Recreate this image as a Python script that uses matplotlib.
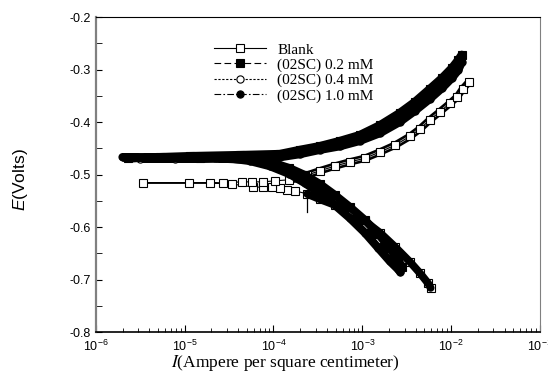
import numpy as np
import matplotlib.pyplot as plt

plt.rcParams['font.family'] = 'Liberation Sans'
plt.rcParams['mathtext.fontset'] = 'custom'
plt.rcParams['mathtext.rm'] = 'Liberation Sans'
plt.rcParams['mathtext.it'] = 'Liberation Sans:italic'
plt.rcParams['axes.unicode_minus'] = False

labels = ['Blank', '(02SC) 0.2 mM', '(02SC) 0.4 mM', '(02SC) 1.0 mM']

# log10 of current density (A/cm2) and potential (V),
# each scan from the cathodic end through Ecorr to the anodic end
blank_logi = [-2.23, -2.26, -2.35, -2.46, -2.63, -2.80, -2.97, -3.14, -3.31, -3.48,
              -3.62, -3.76, -3.85, -3.93, -4.02, -4.12, -4.23, -4.47, -4.72, -5.47,
              -4.95, -4.57, -4.36, -4.24, -4.12, -3.98, -3.82, -3.70, -3.62, -3.48,
              -3.31, -3.14, -2.97, -2.80, -2.63, -2.46, -2.35, -2.24, -2.13, -2.01,
              -1.93, -1.87, -1.80]
blank_e = [-0.716, -0.707, -0.688, -0.667, -0.638, -0.611, -0.589, -0.571, -0.558, -0.547,
           -0.537, -0.531, -0.530, -0.526, -0.524, -0.524, -0.524, -0.518, -0.516, -0.516,
           -0.516, -0.516, -0.514, -0.514, -0.514, -0.512, -0.510, -0.507, -0.501, -0.493,
           -0.484, -0.476, -0.469, -0.457, -0.444, -0.427, -0.413, -0.396, -0.381, -0.364,
           -0.352, -0.337, -0.324]

c02_logi = [-2.55, -2.60, -2.69, -2.82, -2.97, -3.14, -3.31, -3.48, -3.65, -3.82,
            -4.04, -4.27, -4.49, -4.83, -5.28, -5.64, -4.94, -4.38, -3.93, -3.70,
            -3.48, -3.25, -3.03, -2.80, -2.58, -2.41, -2.24, -2.10, -1.99, -1.92, -1.88]
c02_e = [-0.676, -0.663, -0.640, -0.613, -0.587, -0.562, -0.539, -0.518, -0.501, -0.488,
         -0.476, -0.470, -0.467, -0.469, -0.467, -0.469, -0.465, -0.463, -0.461, -0.453,
         -0.446, -0.436, -0.425, -0.406, -0.383, -0.362, -0.337, -0.316, -0.297, -0.282, -0.272]

c04_logi = [-2.61, -2.63, -2.70, -2.82, -2.97, -3.14, -3.31, -3.48, -3.65, -3.82,
            -4.04, -4.27, -4.66, -5.11, -5.50, -4.83, -4.32, -3.93, -3.70, -3.48,
            -3.25, -3.03, -2.80, -2.58, -2.41, -2.24, -2.10, -1.99, -1.92, -1.89]
c04_e = [-0.667, -0.659, -0.648, -0.625, -0.598, -0.571, -0.547, -0.526, -0.509, -0.493,
         -0.480, -0.472, -0.469, -0.470, -0.470, -0.469, -0.469, -0.465, -0.457, -0.450,
         -0.440, -0.430, -0.413, -0.390, -0.370, -0.347, -0.326, -0.307, -0.291, -0.282]

c10_logi = [-2.57, -2.60, -2.69, -2.82, -2.97, -3.14, -3.31, -3.48, -3.65, -3.82,
            -4.04, -4.27, -4.60, -5.00, -5.39, -5.70, -5.22, -4.15, -3.93, -3.70,
            -3.48, -3.25, -3.03, -2.80, -2.58, -2.41, -2.24, -2.10, -1.99, -1.92, -1.88]
c10_e = [-0.686, -0.680, -0.665, -0.640, -0.611, -0.583, -0.558, -0.535, -0.516, -0.499,
         -0.484, -0.474, -0.467, -0.469, -0.469, -0.467, -0.469, -0.467, -0.467, -0.461,
         -0.453, -0.446, -0.436, -0.421, -0.400, -0.379, -0.356, -0.335, -0.316, -0.301, -0.286]

# short vertical glitch seen on the blank scan near 2.4e-4 A/cm2
glitch_i = [2.4e-4, 2.4e-4]
glitch_e = [-0.530, -0.572]

fig = plt.figure(figsize=(5.48, 3.72), dpi=100)
ax = fig.add_axes([0.175, 0.1075, 0.8102, 0.8468])

blank_i = 10 ** np.array(blank_logi)
blank_v = np.array(blank_e)

# dense scan points merge into bands: blank branches
cath = np.where((blank_v < -0.52) & (blank_i > 2.3e-4), blank_i, np.nan)
anod = np.where((blank_v > -0.515) & (blank_i > 1.5e-4), blank_i, np.nan)
ax.plot(anod, blank_v, color='black', lw=5.4, solid_capstyle='round', zorder=2)
ax.plot(anod, blank_v, color='#d8d8d8', lw=1.6, zorder=2)
h_blank, = ax.plot(blank_i, blank_v, color='black', ls='-', lw=0.8, marker='s',
                   ms=5.2, mfc='white', mec='black', mew=0.8, zorder=3)
ax.plot(cath, blank_v, color='black', lw=5.6, solid_capstyle='round', zorder=3.5)
ax.plot(glitch_i, glitch_e, color='black', lw=0.9, zorder=9)

styles = [
    ('0.4', c04_logi, c04_e, 'o', 'white', (0, (2, 1.5)), 4),
    ('0.2', c02_logi, c02_e, 's', 'black', (0, (6, 3)), 6),
    ('1.0', c10_logi, c10_e, 'o', 'black', (0, (6, 2, 1.5, 2)), 6),
]
hmap = {}
for key, logi, e, mk, face, ls, z in styles:
    i = 10 ** np.array(logi)
    ax.plot(i, e, color='black', lw=6.0, solid_capstyle='round', zorder=z)
    h, = ax.plot(i, e, color='black', ls=ls, lw=0.8, marker=mk, ms=5.2,
                 mfc=face, mec='black', mew=0.8, zorder=z + 1)
    hmap[key] = h
handles = [h_blank, hmap['0.2'], hmap['0.4'], hmap['1.0']]

ax.set_xscale('log')
ax.set_xlim(1e-6, 1e-1)
ax.set_ylim(-0.8, -0.2)
ax.set_yticks([-0.8, -0.7, -0.6, -0.5, -0.4, -0.3, -0.2])
ax.set_yticks(np.arange(-0.75, -0.2, 0.1), minor=True)
ax.set_yticklabels(['-0.8', '-0.7', '-0.6', '-0.5', '-0.4', '-0.3', '-0.2'])

ax.tick_params(axis='both', which='both', direction='in', labelsize=9,
               top=False, right=False, colors='black')
ax.tick_params(axis='y', which='both', length=4)
ax.tick_params(axis='x', which='major', length=5, pad=5)
ax.tick_params(axis='x', which='minor', length=3)

ax.spines['left'].set_color('#808080')
ax.spines['left'].set_linewidth(1.6)
ax.spines['bottom'].set_linewidth(1.2)
ax.spines['top'].set_linewidth(0.8)
ax.spines['right'].set_color('#808080')
ax.spines['right'].set_linewidth(0.8)

ax.set_xlabel('$I$(Ampere per square centimeter)', family='Liberation Serif',
              math_fontfamily='stix', fontsize=12.5)
ax.xaxis.set_label_coords(0.426, -0.068)
ax.set_ylabel('$E$(Volts)', fontsize=12.5)
ax.yaxis.set_label_coords(-0.148, 0.483)

ax.legend(handles, labels, loc='upper left', bbox_to_anchor=(0.266, 0.918),
          frameon=False, prop={'family': 'Liberation Serif', 'size': 11},
          handlelength=3.4, handletextpad=0.75, labelspacing=0.1,
          borderaxespad=0, borderpad=0, numpoints=1)

fig.savefig('out.png', dpi=100)
